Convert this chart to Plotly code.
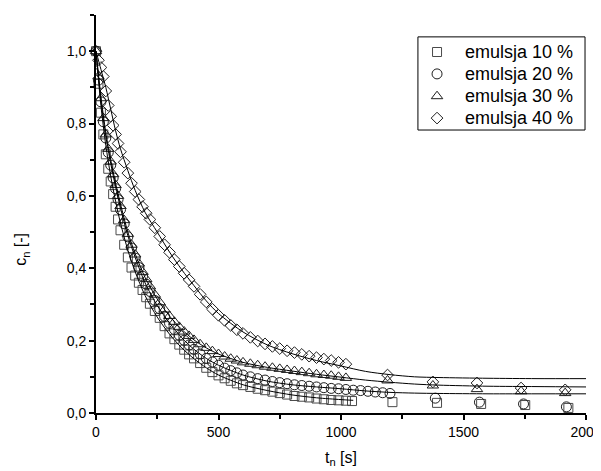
import plotly.graph_objects as go

# ---------------- data ----------------
t_dense = [0, 10, 20, 30, 40, 50, 60, 70, 80, 90, 100, 115, 130, 145, 160, 175, 190,
           205, 220, 240, 260, 280, 300, 320, 340, 360, 380, 400, 425, 450, 475, 500,
           525, 550, 575, 600, 630, 660, 690, 720, 750, 780, 810, 840, 870, 900, 930,
           960, 990, 1020]

# emulsja 10 %
t_10_tail = [1045, 1210, 1392, 1572, 1752, 1928]
c_10 = [1.0, 0.91, 0.83, 0.77, 0.715, 0.675, 0.64, 0.605, 0.57, 0.535, 0.505, 0.465,
        0.43, 0.402, 0.38, 0.36, 0.34, 0.32, 0.302, 0.282, 0.263, 0.24, 0.22, 0.204,
        0.189, 0.175, 0.162, 0.151, 0.138, 0.125, 0.113, 0.104, 0.096, 0.089, 0.082,
        0.077, 0.072, 0.067, 0.063, 0.059, 0.055, 0.051, 0.047, 0.045, 0.043, 0.04,
        0.038, 0.036, 0.035, 0.034,
        0.033, 0.03, 0.028, 0.025, 0.022, 0.014]

# emulsja 20 %
t_20_tail = [1050, 1080, 1110, 1140, 1170, 1200, 1385, 1565, 1745, 1920]
c_20 = [1.0, 0.92, 0.86, 0.805, 0.76, 0.72, 0.685, 0.65, 0.62, 0.59, 0.562, 0.523,
        0.487, 0.456, 0.428, 0.402, 0.378, 0.356, 0.336, 0.311, 0.288, 0.267, 0.248,
        0.231, 0.215, 0.201, 0.188, 0.176, 0.163, 0.151, 0.141, 0.132, 0.124, 0.117,
        0.111, 0.105, 0.1, 0.095, 0.091, 0.087, 0.084, 0.081, 0.078, 0.076, 0.074,
        0.072, 0.07, 0.068, 0.067, 0.065,
        0.063, 0.062, 0.06, 0.058, 0.056, 0.054, 0.041, 0.03, 0.025, 0.017]

# emulsja 30 %
t_30_tail = [1190, 1375, 1555, 1735, 1915]
c_30 = [1.0, 0.93, 0.87, 0.815, 0.77, 0.73, 0.695, 0.66, 0.63, 0.6, 0.572, 0.533,
        0.495, 0.465, 0.438, 0.413, 0.39, 0.37, 0.35, 0.327, 0.306, 0.286, 0.268,
        0.252, 0.238, 0.225, 0.213, 0.202, 0.19, 0.18, 0.171, 0.163, 0.156, 0.15,
        0.145, 0.14, 0.136, 0.132, 0.128, 0.125, 0.122, 0.119, 0.116, 0.113, 0.11,
        0.107, 0.105, 0.103, 0.1, 0.097,
        0.09, 0.076, 0.066, 0.06, 0.055]

# emulsja 40 %
t_40_tail = [1190, 1375, 1555, 1735, 1915]
c_40 = [1.0, 0.975, 0.955, 0.93, 0.89, 0.85, 0.82, 0.795, 0.77, 0.745, 0.722, 0.693,
        0.663, 0.635, 0.612, 0.59, 0.57, 0.552, 0.535, 0.512, 0.488, 0.465, 0.444,
        0.424, 0.405, 0.386, 0.368, 0.35, 0.328, 0.307, 0.287, 0.27, 0.256, 0.242,
        0.23, 0.22, 0.209, 0.199, 0.191, 0.184, 0.178, 0.172, 0.167, 0.162, 0.157,
        0.153, 0.149, 0.145, 0.14, 0.135,
        0.105, 0.086, 0.083, 0.069, 0.064]

# fitted curves (black lines)
t_fit_10 = [0, 20, 40, 60, 80, 100, 130, 160, 200, 250, 300, 350, 400, 450, 500, 600,
            700, 800, 900, 1000, 1050]
f_10 = [1.0, 0.85, 0.74, 0.655, 0.585, 0.525, 0.45, 0.39, 0.325, 0.265, 0.218, 0.18,
        0.15, 0.125, 0.105, 0.078, 0.062, 0.05, 0.042, 0.037, 0.035]

t_fit = [0, 20, 40, 60, 80, 100, 130, 160, 200, 250, 300, 350, 400, 450, 500, 600, 700,
         800, 900, 1000, 1100, 1200, 1300, 1400, 1600, 1800, 2000]
f_20 = [1.0, 0.865, 0.765, 0.69, 0.625, 0.567, 0.49, 0.43, 0.36, 0.297, 0.249, 0.208,
        0.176, 0.151, 0.132, 0.105, 0.088, 0.078, 0.072, 0.067, 0.061, 0.057, 0.055,
        0.054, 0.053, 0.053, 0.053]
f_30 = [1.0, 0.875, 0.775, 0.7, 0.635, 0.578, 0.5, 0.44, 0.375, 0.315, 0.268, 0.231,
        0.202, 0.18, 0.163, 0.14, 0.126, 0.116, 0.107, 0.099, 0.091, 0.085, 0.08,
        0.077, 0.074, 0.073, 0.072]
f_40 = [1.0, 0.95, 0.9, 0.84, 0.78, 0.73, 0.67, 0.615, 0.555, 0.5, 0.445, 0.396, 0.352,
        0.31, 0.275, 0.224, 0.188, 0.164, 0.145, 0.13, 0.115, 0.106, 0.1, 0.098, 0.096,
        0.095, 0.095]

series_names = ["emulsja 10 %", "emulsja 20 %", "emulsja 30 %", "emulsja 40 %"]

x_tickvals = [0, 500, 1000, 1500, 2000]
x_ticktext = ["0", "500", "1000", "1500", "2000"]
x_minor = [250, 750, 1250, 1750]
y_tickvals = [0.0, 0.2, 0.4, 0.6, 0.8, 1.0]
y_ticktext = ["0,0", "0,2", "0,4", "0,6", "0,8", "1,0"]
y_minor = [0.1, 0.3, 0.5, 0.7, 0.9, 1.1]

# ---------------- figure ----------------
fig = go.Figure()

styles = [
    ("square-open", 9, "#4a4a4a"),
    ("circle-open", 10, "#1e1e1e"),
    ("triangle-up-open", 10, "#1e1e1e"),
    ("diamond-open", 9, "#1e1e1e"),
]
series_t = [t_dense + t_10_tail, t_dense + t_20_tail, t_dense + t_30_tail, t_dense + t_40_tail]
series_c = [c_10, c_20, c_30, c_40]

for name, tx, cy, (sym, size, col) in zip(series_names, series_t, series_c, styles):
    fig.add_trace(go.Scatter(
        x=tx, y=cy, mode="markers", name=name, cliponaxis=False, showlegend=False,
        marker=dict(symbol=sym, size=size, color=col, line=dict(width=1, color=col)),
    ))

for tx, fy in [(t_fit_10, f_10), (t_fit, f_20), (t_fit, f_30), (t_fit, f_40)]:
    fig.add_trace(go.Scatter(
        x=tx, y=fy, mode="lines", showlegend=False, hoverinfo="skip",
        line=dict(color="black", width=1, shape="spline", smoothing=0.8),
    ))

# ---- legend box (drawn on an overlay axis in plot-area fractions) ----
leg_sym_x = 0.696
leg_rows = [0.907, 0.852, 0.796, 0.741]
leg_text_x = 0.749
for (sym, size, col), yy in zip(styles, leg_rows):
    fig.add_trace(go.Scatter(
        x=[leg_sym_x], y=[yy], xaxis="x2", yaxis="y2", mode="markers",
        showlegend=False, hoverinfo="skip",
        marker=dict(symbol=sym, size=size, color=col, line=dict(width=1, color=col)),
    ))
fig.add_shape(type="rect", xref="paper", yref="paper", x0=0.657, x1=0.998, y0=0.711, y1=0.945,
              line=dict(color="black", width=1), fillcolor="white", layer="below")
for name, yy in zip(series_names, leg_rows):
    fig.add_annotation(x=leg_text_x, y=yy, xref="paper", yref="paper", text=name,
                       showarrow=False, xanchor="left", yanchor="middle",
                       font=dict(size=18, color="black"))

# y-axis title as annotation (placed as in the reference)
fig.add_annotation(x=-0.151, y=0.41, xref="paper", yref="paper", text="c<sub>n</sub> [-]",
                   textangle=-90, showarrow=False, xanchor="center", yanchor="middle",
                   font=dict(size=16, color="black"))

axis_common = dict(
    showline=True, linecolor="black", linewidth=2, mirror=False,
    ticks="outside", ticklen=5, tickwidth=1.5, tickcolor="black",
    showgrid=False, zeroline=False,
    tickfont=dict(size=14, color="black"),
    ticklabeloverflow="allow",
)

fig.update_xaxes(
    range=[0, 2000], tickvals=x_tickvals, ticktext=x_ticktext,
    minor=dict(tickvals=x_minor, ticks="outside", ticklen=4, tickwidth=1.5, tickcolor="black"),
    title=dict(text="t<sub>n</sub> [s]", font=dict(size=16), standoff=13),
    automargin=False, **axis_common,
)
fig.update_yaxes(
    range=[0, 1.1], tickvals=y_tickvals, ticktext=y_ticktext,
    minor=dict(tickvals=y_minor, ticks="outside", ticklen=4, tickwidth=1.5, tickcolor="black"),
    automargin=False, **axis_common,
)

fig.update_layout(
    xaxis2=dict(overlaying="x", range=[0, 1], visible=False, fixedrange=True),
    yaxis2=dict(overlaying="y", range=[0, 1], visible=False, fixedrange=True),
    width=593, height=463,
    margin=dict(l=88, r=15, t=7, b=58),
    plot_bgcolor="white", paper_bgcolor="white",
    font=dict(family="Arial, 'Liberation Sans', sans-serif", size=14, color="black"),
    showlegend=False,
)

fig.write_html("out.html")
